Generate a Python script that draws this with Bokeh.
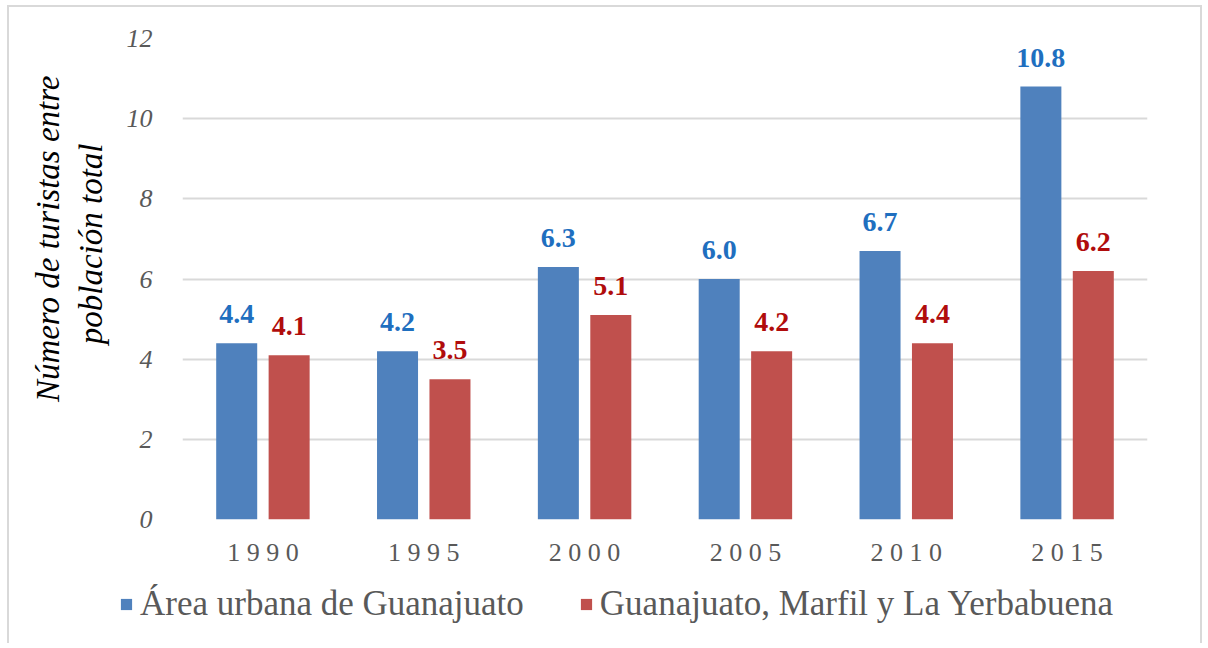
from bokeh.plotting import figure
from bokeh.models import ColumnDataSource, FactorRange, Title, Legend, LegendItem, LabelSet
from bokeh.transform import dodge
from bokeh.embed import file_html
from bokeh.resources import INLINE

years = ["1990", "1995", "2000", "2005", "2010", "2015"]
year_labels = ["1 9 9 0", "1 9 9 5", "2 0 0 0", "2 0 0 5", "2 0 1 0", "2 0 1 5"]
urbana = [4.4, 4.2, 6.3, 6.0, 6.7, 10.8]
marfil = [4.1, 3.5, 5.1, 4.2, 4.4, 6.2]
series_names = ["Área urbana de Guanajuato", "Guanajuato, Marfil y La Yerbabuena"]
y_title = ["Número de turistas entre", "población total"]

FONT = "Liberation Serif"
BLUE = "#4F81BD"
RED = "#C0504D"
BLUE_TXT = "#1F6FBF"
RED_TXT = "#B00C0C"
BORDER = "2px solid #d9d9d9"

src = ColumnDataSource(dict(
    year=year_labels,
    urbana=urbana,
    marfil=marfil,
    urbana_lbl=[f"{v:.1f}" for v in urbana],
    marfil_lbl=[f"{v:.1f}" for v in marfil],
))

W = 1195
H1 = 575
H2 = 63

p = figure(x_range=FactorRange(factors=year_labels), y_range=(0, 12),
           width=W, height=H1, output_backend="svg", toolbar_location=None,
           min_border_left=173, min_border_right=57, min_border_top=31,
           min_border_bottom=7 + H1 - 519)
p.styles = {"border-top": BORDER, "border-left": BORDER, "border-right": BORDER,
            "margin-left": "7px", "margin-top": "5px"}
p.outline_line_color = None
p.background_fill_color = "white"
p.border_fill_color = "white"

r1 = p.vbar(x=dodge("year", -0.163, range=p.x_range), top="urbana", width=0.255,
            source=src, fill_color=BLUE, line_color=None)
r2 = p.vbar(x=dodge("year", 0.163, range=p.x_range), top="marfil", width=0.255,
            source=src, fill_color=RED, line_color=None)

p.add_layout(LabelSet(x=dodge("year", -0.163, range=p.x_range), y="urbana", text="urbana_lbl",
                      source=src, text_font=FONT, text_font_style="bold", text_font_size="28px",
                      text_color=BLUE_TXT, text_align="center", text_baseline="alphabetic",
                      y_offset=20))
p.add_layout(LabelSet(x=dodge("year", 0.163, range=p.x_range), y="marfil", text="marfil_lbl",
                      source=src, text_font=FONT, text_font_style="bold", text_font_size="28px",
                      text_color=RED_TXT, text_align="center", text_baseline="alphabetic",
                      y_offset=20))

# axes
p.yaxis.ticker = [0, 2, 4, 6, 8, 10, 12]
p.yaxis.axis_line_color = None
p.yaxis.major_tick_line_color = None
p.yaxis.minor_tick_line_color = None
p.yaxis.major_label_text_font = FONT
p.yaxis.major_label_text_font_style = "italic"
p.yaxis.major_label_text_font_size = "26px"
p.yaxis.major_label_text_color = "#595959"
p.yaxis.major_label_standoff = 24

p.xaxis.axis_line_color = None
p.xaxis.major_tick_line_color = None
p.xaxis.minor_tick_line_color = None
p.xaxis.major_label_text_font = FONT
p.xaxis.major_label_text_font_size = "26px"
p.xaxis.major_label_text_color = "#595959"
p.xaxis.major_label_standoff = 12

p.xgrid.grid_line_color = None
p.ygrid.grid_line_color = "#d9d9d9"
p.ygrid.grid_line_width = 2

# y title (two lines, rotated) as titles in the left panel
for txt, st, off in zip(reversed(y_title), [30, -20], [105, 37]):
    p.add_layout(Title(text=txt, align="right", offset=off, standoff=st,
                       text_font=FONT, text_font_style="italic", text_font_size="33px",
                       text_color="#000000"), "left")

# legend strip below the chart
p2 = figure(x_range=FactorRange(factors=year_labels), y_range=(100, 200), width=W, height=H2,
            output_backend="svg", toolbar_location=None,
            min_border_left=0, min_border_right=0, min_border_top=0, min_border_bottom=0)
p2.styles = {"border-left": BORDER, "border-right": BORDER, "margin-left": "7px"}
p2.axis.visible = False
p2.grid.grid_line_color = None
p2.outline_line_color = None
p2.background_fill_color = "white"
p2.border_fill_color = "white"
l1 = p2.vbar(x=dodge("year", -0.163, range=p2.x_range), top="urbana", width=0.255,
             source=src, fill_color=BLUE, line_color=None)
l2 = p2.vbar(x=dodge("year", 0.163, range=p2.x_range), top="marfil", width=0.255,
             source=src, fill_color=RED, line_color=None)

legend = Legend(items=[LegendItem(label=series_names[0], renderers=[l1]),
                       LegendItem(label=series_names[1], renderers=[l2])],
                orientation="horizontal", location=(110, 19),
                label_text_font=FONT, label_text_font_size="35px", label_text_color="#595959",
                glyph_width=14, glyph_height=14, label_standoff=7, spacing=55,
                border_line_color=None, background_fill_alpha=0, margin=0, padding=4)
p2.add_layout(legend, "center")

open("out.html", "w").write(file_html([p, p2], INLINE))
